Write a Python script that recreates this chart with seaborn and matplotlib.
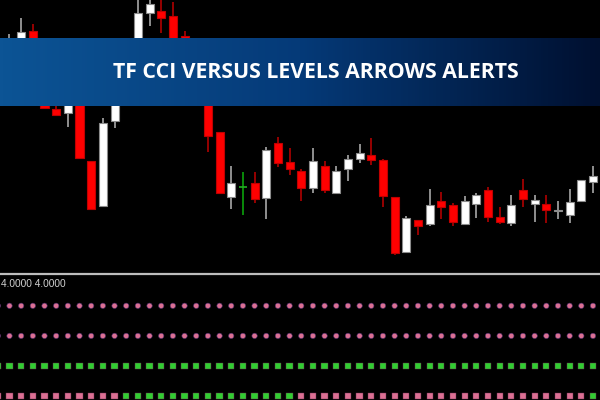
import numpy as np
import pandas as pd
import matplotlib
matplotlib.use("Agg")
import matplotlib.pyplot as plt
from matplotlib.colors import LinearSegmentedColormap
import seaborn as sns

# ---------------- data (price units, arbitrary scale) ----------------
opens  = [192, 202, 241, 202, 163, 159, 177, 111, 66, 151, 182, 222, 259, 261, 256, 236, 192,
          172, 140, 75, 85, 89, 74, 129, 110, 101, 84, 106, 79, 103, 113, 117, 112, 75, 20,
          52, 48, 71, 67, 48, 68, 82, 55, 49, 82, 68, 68, 61.5, 57, 71, 90]
closes = [227, 240, 207, 164, 157, 177, 114, 63, 149, 182, 222, 259, 268, 254, 202, 192, 172,
          136, 79, 89, 85, 73, 122, 109, 103, 84, 111, 82, 101, 113, 119, 112, 76, 19, 54,
          46, 67, 65, 50, 71, 77, 55, 50, 67, 73, 72, 62, 62.5, 70, 92, 96]
highs  = [238, 254, 248, 212, 172, 182, 182, 111, 154, 187, 227, 277, 274, 274, 270, 241, 197,
          177, 140, 106, 100, 100, 125, 135, 124, 103, 124, 111, 106, 117, 128, 134, 113, 75, 56,
          52, 83, 80, 69, 76, 79, 85, 65, 77, 93, 77, 77, 71, 83, 92, 106]
lows   = [182, 196, 202, 164, 157, 145, 114, 63, 66, 144, 177, 217, 246, 239, 197, 187, 168,
          120, 79, 63, 57, 69, 53, 105, 97, 71, 79, 79, 79, 91, 109, 107, 65, 17, 19,
          37, 46, 53, 46, 48, 54, 50, 48, 46, 65, 50, 49, 53, 49, 71, 79]

level_label = "4.0000 4.0000"
title_text = "TF CCI VERSUS LEVELS ARROWS ALERTS"
# indicator rows: 1 = top ... 4 = bottom ; state per bar (-1 .. 50)
row1_state = ["down"] * 52
row2_state = ["down"] * 52
row3_state = ["up"] * 52
row4_state = ["down"] * 11 + ["up"] * 15 + ["down"] * 25 + ["up"]

# ---------------- figure ----------------
W, H = 600, 400
fig = plt.figure(figsize=(W / 100, H / 100), dpi=100, facecolor="black")
sns.set_style("dark")

n = len(opens)
idx = np.arange(n)
step = 11.67
x0 = 9.5
xlim = (-x0 / step, (W - x0) / step)

ax = fig.add_axes([0, (H - 272) / H, 1, 272 / H])
ax.set_facecolor("black")
ax.set_xlim(*xlim)
ax.set_ylim(0, 272)
ax.axis("off")

df = pd.DataFrame({"i": idx, "o": opens, "c": closes, "h": highs, "l": lows})
bull = df[df.c > df.o]
bear = df[df.c < df.o]
doji = df[df.c == df.o]

bw = 0.69
# wicks
ax.vlines(bull.i, bull.l, bull.h, color="#a8a8a8", lw=1.2, zorder=1)
ax.vlines(bear.i, bear.l, bear.h, color="#b00000", lw=1.2, zorder=1)
ax.vlines(doji.i, doji.l, doji.h, color="#0a8a0a", lw=1.4, zorder=1)
ax.hlines(doji.o, doji.i - bw / 2, doji.i + bw / 2, color="#22b022", lw=1.2, zorder=2)
# bodies
ax.bar(bull.i, bull.c - bull.o, bottom=bull.o, width=bw, color="white",
       edgecolor="#8c8c8c", linewidth=0.8, zorder=2)
ax.bar(bear.i, bear.c - bear.o, bottom=bear.o, width=bw, color="#ff0000",
       edgecolor="#c00000", linewidth=0.8, zorder=2)

# separator line
fig.add_artist(plt.Line2D([0, 1], [1 - 274 / H, 1 - 274 / H], color="#bdbdbd", lw=1.6,
                          transform=fig.transFigure))

# ---------------- indicator sub-window ----------------
sub = fig.add_axes([0, 0, 1, 124 / H])
sub.set_facecolor("black")
rows = []
xs = np.arange(-1, n)
for r, states in zip([1, 2, 3, 4], [row1_state, row2_state, row3_state, row4_state]):
    for x, s in zip(xs, states):
        rows.append({"x": x, "row": r, "state": s,
                     "shape": "o" if r <= 2 else "s"})
dots = pd.DataFrame(rows)
pal = {"down": "#db7093", "up": "#32cd32"}
circ = dots[dots["shape"] == "o"]
sqr = dots[dots["shape"] == "s"]
sns.scatterplot(data=circ, x="x", y="row", hue="state", palette=pal, marker="o", s=15,
                edgecolor="#4a2a6a", linewidth=0.4, legend=False, ax=sub)
sns.scatterplot(data=sqr, x="x", y="row", hue="state", palette=pal, marker="s", s=20,
                edgecolor="#6a3050", linewidth=0.3, legend=False, ax=sub)
sub.set_xlim(*xlim)
sub.set_ylim(4.13, 0.01)
sub.axis("off")
fig.text(1 / W, 1 - 284 / H, level_label, color="#d0d0d0", fontsize=7.3,
         family=["Liberation Sans", "DejaVu Sans"], va="center", ha="left")

# ---------------- banner ----------------
bax = fig.add_axes([0, 1 - 106 / H, 1, 68 / H], zorder=10)
cmap = LinearSegmentedColormap.from_list("banner", ["#0c5495", "#053a78", "#001030"])
grad = np.linspace(0, 1, 600).reshape(1, -1)
bax.imshow(grad, cmap=cmap, aspect="auto", extent=[0, 1, 0, 1])
bax.set_xlim(0, 1)
bax.set_ylim(0, 1)
bax.axis("off")
t = bax.text(315.5 / W, 0.5, title_text, color="white", fontsize=14, fontweight="bold",
             family=["Open Sans", "DejaVu Sans"], ha="center", va="center")
fig.canvas.draw()
bb = t.get_window_extent()
t.set_fontsize(14 * 407 / bb.width)

fig.savefig("out.png", dpi=100, facecolor="black")
